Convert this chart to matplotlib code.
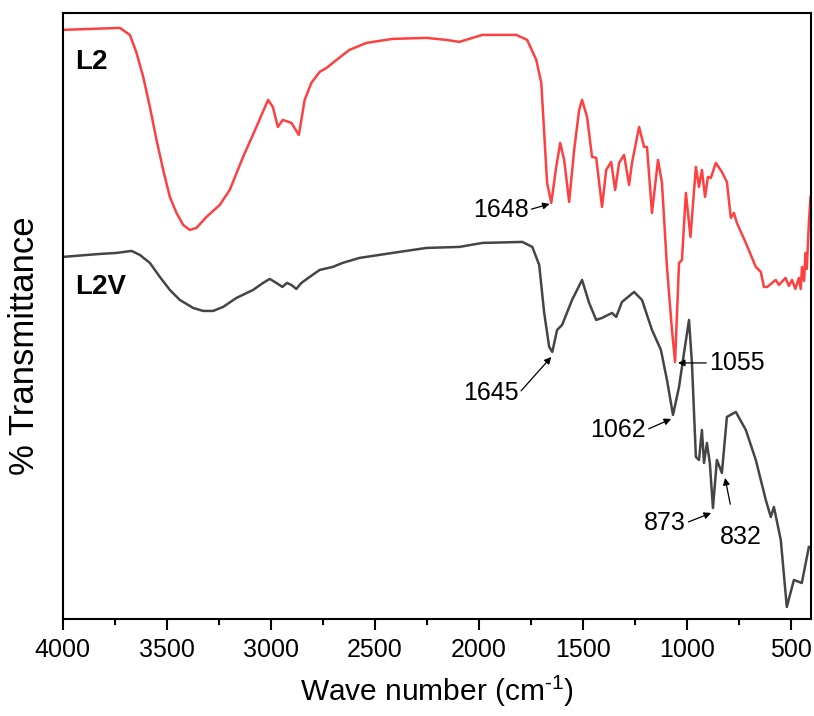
import numpy as np
import matplotlib
matplotlib.use("Agg")
import matplotlib.pyplot as plt
from matplotlib.ticker import MultipleLocator

plt.rcParams['font.family'] = ['Liberation Sans', 'DejaVu Sans']
plt.rcParams['mathtext.fontset'] = 'custom'
plt.rcParams['mathtext.rm'] = 'Liberation Sans'

# L2 spectrum (wave number, transmittance a.u.)
wn_l2 = [4000, 3725, 3677, 3645, 3613, 3581, 3549, 3517, 3485, 3453, 3421, 3389,
         3357, 3309, 3245, 3197, 3133, 3069, 3013, 2990, 2966, 2942, 2901, 2865,
         2837, 2805, 2765, 2732, 2684, 2622, 2540, 2415, 2252, 2156, 2094, 1983,
         1820, 1768, 1724, 1700, 1686, 1672, 1652, 1628, 1609, 1590, 1566, 1542,
         1518, 1504, 1480, 1456, 1436, 1408, 1388, 1364, 1345, 1326, 1302, 1278,
         1264, 1230, 1206, 1192, 1168, 1139, 1120, 1096, 1072, 1057, 1038, 1024,
         1005, 983, 957, 942, 928, 913, 899, 885, 861, 832, 808, 789, 774, 760,
         717, 669, 645, 630, 614, 573, 558, 526, 510, 495, 479, 462, 453, 447,
         437, 430, 424, 414, 406]
t_l2 = [589, 591, 584, 566, 542, 512, 479, 449, 422, 406, 394, 389,
        391, 402, 414, 429, 462, 492, 519, 512, 492, 499, 496, 484,
        519, 536, 547, 551, 559, 569, 576, 580, 581, 579, 577, 584,
        584, 579, 559, 536, 486, 436, 416, 452, 476, 459, 417, 469,
        509, 519, 502, 462, 461, 412, 449, 457, 429, 456, 464, 434,
        456, 492, 472, 472, 406, 459, 436, 352, 289, 257, 356, 359,
        426, 382, 452, 432, 449, 422, 442, 441, 456, 447, 437, 401, 406, 396,
        376, 352, 347, 332, 332, 339, 334, 341, 333, 339, 330, 341, 330, 352,
        338, 366, 350, 396, 422]

# L2V spectrum
wn_l2v = [4000, 3821, 3741, 3669, 3629, 3581, 3533, 3485, 3437, 3373, 3325, 3277,
          3229, 3165, 3085, 3037, 3005, 2973, 2944, 2922, 2901, 2877, 2853, 2813,
          2765, 2702, 2655, 2574, 2415, 2252, 2094, 1983, 1791, 1743,
          1710, 1686, 1662, 1647, 1624, 1600, 1552, 1504, 1470, 1436, 1408, 1360,
          1340, 1312, 1254, 1216, 1168, 1125, 1096, 1067, 1038, 1014, 990, 976,
          957, 942, 928, 918, 904, 890, 875, 856, 832, 808, 765, 717, 669, 621,
          597, 582, 549, 520, 486, 448, 414]
t_l2v = [362, 365, 366, 368, 364, 356, 342, 329, 319, 311, 308, 308,
         312, 321, 329, 336, 340, 336, 332, 336, 334, 330, 336, 342,
         349, 352, 356, 361, 366, 371, 372, 376, 377, 372,
         354, 306, 272, 267, 289, 294, 319, 339, 316, 299, 301, 306,
         302, 317, 327, 319, 289, 269, 239, 204, 232, 266, 299, 256,
         162, 159, 189, 156, 176, 156, 111, 159, 146, 202, 207, 189, 159, 119,
         102, 112, 79, 12, 39, 36, 72]

# peak labels: text, text position, arrow head
peak_labels = ["1648", "1645", "1055", "1062", "873", "832"]
label_pos = [(1760, 409), (1806, 226), (894, 256), (1196, 189), (1005, 96), (741, 82)]
arrow_tail = [(1760, 409), (1806, 226), (894, 256), (1196, 189), (1005, 96), (789, 112)]
arrow_tip = [(1660, 415), (1652, 262), (1043, 256), (1076, 200), (884, 106), (817, 141)]
label_ha = ["right", "right", "left", "right", "right", "center"]

fig = plt.figure(figsize=(8.14, 7.16), dpi=100)
ax = fig.add_axes([0.077, 0.1355, 0.919, 0.8465])

ax.plot(wn_l2, t_l2, color='#ff4040', lw=1.8)
ax.plot(wn_l2v, t_l2v, color='#454545', lw=1.8)

for txt, pos, tail, tip, ha in zip(peak_labels, label_pos, arrow_tail, arrow_tip, label_ha):
    ax.annotate("", xy=tip, xytext=tail,
                arrowprops=dict(arrowstyle='-|>', color='black', lw=0.9, mutation_scale=10,
                                shrinkA=2, shrinkB=0))
    ax.text(pos[0], pos[1], txt, fontsize=18, ha=ha, va='center')

ax.text(3941, 557, "L2", fontsize=20, fontweight='bold', va='center')
ax.text(3941, 332, "L2V", fontsize=20, fontweight='bold', va='center')

ax.set_xlim(4000, 405)
ax.set_ylim(0, 606)
ax.xaxis.set_major_locator(MultipleLocator(500))
ax.xaxis.set_minor_locator(MultipleLocator(250))
ax.set_yticks([])
ax.tick_params(axis='x', which='major', length=8, width=1.5, labelsize=18, pad=6)
ax.tick_params(axis='x', which='minor', length=4, width=1.5)
for s in ax.spines.values():
    s.set_linewidth(1.5)

ax.set_xlabel(r"Wave number (cm$^{\text{-1}}$)", fontsize=21.5, labelpad=8)
fig.text(0.03, 0.517, "% Transmittance", fontsize=25, rotation=90, ha='center', va='center')

fig.savefig("out.png", dpi=100)
